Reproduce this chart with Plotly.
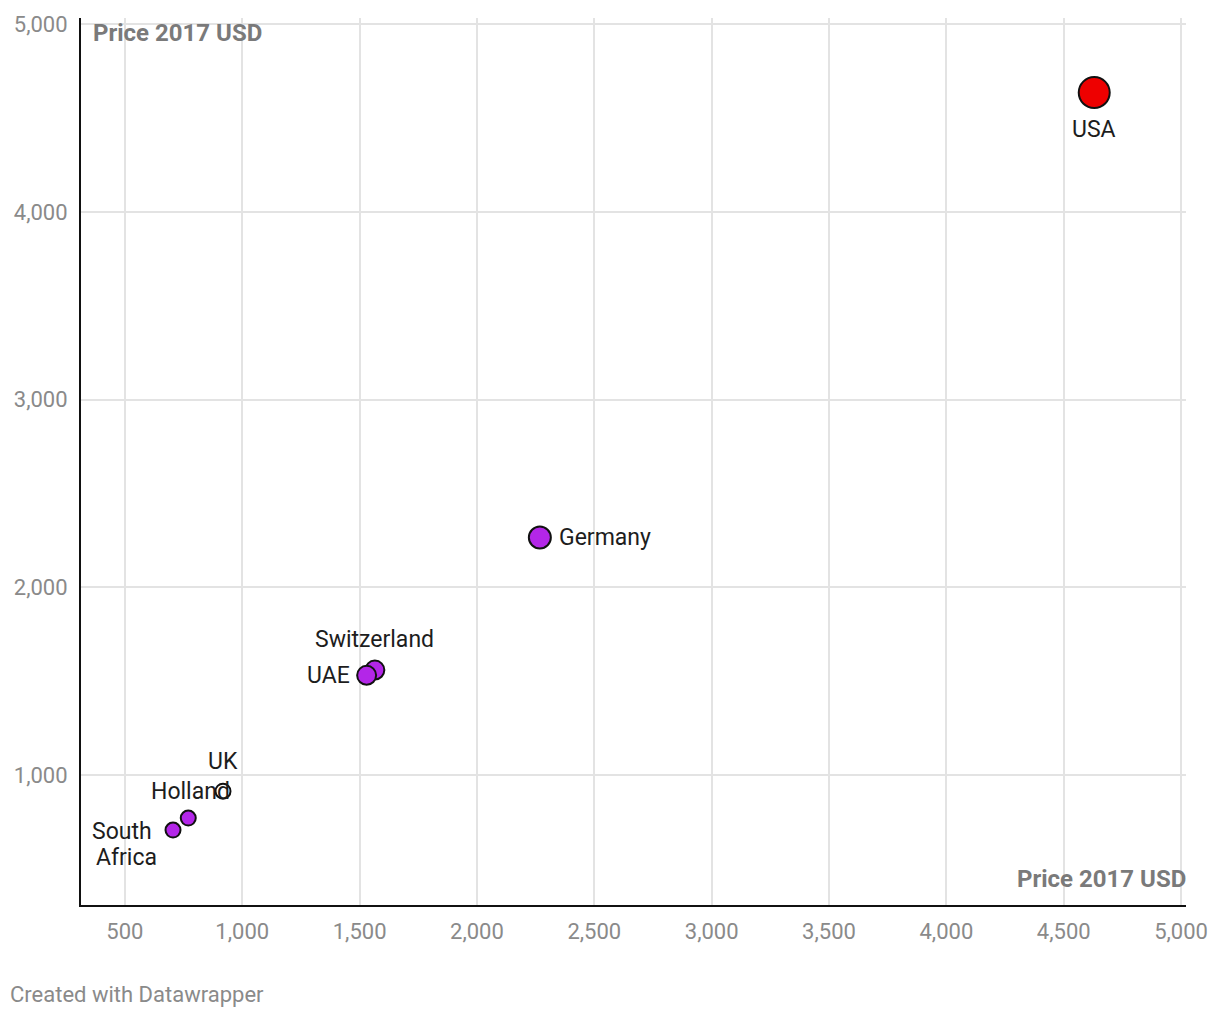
import plotly.graph_objects as go

countries = ["USA", "Germany", "Switzerland", "UAE", "UK", "Holland", "South Africa"]
price_x = [4630, 2268, 1565, 1530, 918, 770, 705]
price_y = [4635, 2266, 1560, 1532, 915, 772, 708]
fills = ["#ee0000", "#b326e8", "#b326e8", "#b326e8", "rgba(255,255,255,0)", "#b326e8", "#b326e8"]
sizes = [31, 22, 19, 19, 15, 15, 15]
label_text = ["USA", "Germany", "Switzerland", "UAE", "UK", "Holland", "South<br>Africa"]
# label placement offsets (pixels) and anchors
label_dx = [0, 17, 0, -15, 0, 2, -51]
label_dy = [-37, 0, 31, 0, 30, 27, -1]
label_xanchor = ["center", "left", "center", "right", "center", "center", "center"]

x_ticks = [500, 1000, 1500, 2000, 2500, 3000, 3500, 4000, 4500, 5000]
y_ticks = [1000, 2000, 3000, 4000, 5000]
axis_title = "Price 2017 USD"

fig = go.Figure()
fig.add_trace(go.Scatter(
    x=price_x, y=price_y, mode="markers",
    marker=dict(size=sizes, color=fills, opacity=1, line=dict(color="#111111", width=2)),
    hoverinfo="skip", showlegend=False,
))

for i, c in enumerate(countries):
    lines = label_text[i].split("<br>")
    for j, line in enumerate(lines):
        fig.add_annotation(
            x=price_x[i], y=price_y[i], xref="x", yref="y",
            text=line, showarrow=False,
            xanchor=label_xanchor[i], yanchor="middle",
            xshift=label_dx[i] + (4 * j if len(lines) > 1 else 0),
            yshift=label_dy[i] - 26 * j,
            font=dict(family="Roboto", size=23, color="#1d1d1d"),
        )

fig.add_annotation(x=0, y=1, xref="paper", yref="paper", xanchor="left", yanchor="top",
                   xshift=10, yshift=1, text="<b>" + axis_title + "</b>", showarrow=False,
                   font=dict(family="Roboto", size=24, color="#7a7a7a"))
fig.add_annotation(x=1, y=0, xref="paper", yref="paper", xanchor="right", yanchor="bottom",
                   xshift=2, yshift=10, text="<b>" + axis_title + "</b>", showarrow=False,
                   font=dict(family="Roboto", size=24, color="#7a7a7a"))
fig.add_annotation(x=0, y=0, xref="paper", yref="paper", xanchor="left", yanchor="bottom",
                   xshift=-73, yshift=-104, text="Created with Datawrapper", showarrow=False,
                   font=dict(family="Roboto", size=22, color="#8a8a8a"))

fig.update_xaxes(
    range=[313, 5021], tickvals=x_ticks, ticktext=[f"{v:,}" for v in x_ticks],
    showgrid=True, gridcolor="#e3e3e3", gridwidth=1.5,
    showline=True, linecolor="#111111", linewidth=2,
    ticks="", ticklen=0, zeroline=False, ticklabelstandoff=6,
    tickfont=dict(family="Roboto", size=22, color="#8a8a8a"),
)
fig.update_yaxes(
    range=[309, 5032], tickvals=y_ticks, ticktext=[f"{v:,}" for v in y_ticks],
    showgrid=True, gridcolor="#e3e3e3", gridwidth=1.5,
    showline=True, linecolor="#111111", linewidth=2,
    ticks="", ticklen=0, zeroline=False, ticklabelstandoff=7,
    tickfont=dict(family="Roboto", size=22, color="#8a8a8a"),
)
fig.update_layout(
    width=1220, height=1020,
    margin=dict(l=81, r=34, t=18, b=115),
    plot_bgcolor="white", paper_bgcolor="white",
    font=dict(family="Roboto"),
)
fig.write_html("out.html")
